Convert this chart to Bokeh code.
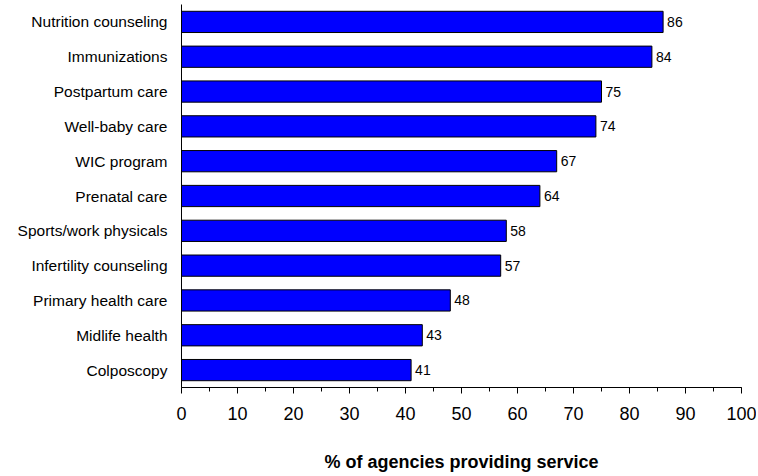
from bokeh.plotting import figure
from bokeh.models import ColumnDataSource, Range1d, FactorRange, SingleIntervalTicker
from bokeh.core.properties import value
from bokeh.embed import file_html
from bokeh.resources import INLINE

categories = ["Nutrition counseling", "Immunizations", "Postpartum care", "Well-baby care",
              "WIC program", "Prenatal care", "Sports/work physicals",
              "Infertility counseling", "Primary health care", "Midlife health", "Colposcopy"]
percent = [86, 84, 75, 74, 67, 64, 58, 57, 48, 43, 41]
x_ticks = [0, 10, 20, 30, 40, 50, 60, 70, 80, 90, 100]

FONT = "Liberation Sans"

src = ColumnDataSource(dict(cat=categories, val=percent, lab=[str(v) for v in percent]))

p = figure(width=756, height=475, output_backend="svg", toolbar_location=None,
           x_range=Range1d(0, 100), y_range=FactorRange(factors=list(reversed(categories))),
           min_border_left=181, min_border_right=15, min_border_top=4, min_border_bottom=88)
p.outline_line_color = None
p.background_fill_color = "white"
p.border_fill_color = "white"
p.xgrid.grid_line_color = None
p.ygrid.grid_line_color = None

p.hbar(y="cat", right="val", left=0, height=0.61, source=src,
       fill_color="#0000FF", line_color="black", line_width=1)
p.text(x="val", y="cat", text="lab", source=src, x_offset=4,
       text_baseline="middle", text_align="left", text_font=value(FONT),
       text_font_size="14px", text_color="black")

xa = p.xaxis[0]
xa.ticker = SingleIntervalTicker(interval=10, num_minor_ticks=2)
xa.axis_line_color = "black"
xa.major_tick_line_color = "black"
xa.minor_tick_line_color = "black"
xa.major_tick_in = 0
xa.major_tick_out = 6
xa.minor_tick_in = 0
xa.minor_tick_out = 4
xa.major_label_text_font = FONT
xa.major_label_text_font_size = "18px"
xa.major_label_text_color = "black"
xa.major_label_standoff = 13
xa.axis_label = "% of agencies providing service"
xa.axis_label_text_font = FONT
xa.axis_label_text_font_size = "18px"
xa.axis_label_text_font_style = "bold"
xa.axis_label_text_color = "black"
xa.axis_label_standoff = 29

ya = p.yaxis[0]
ya.axis_line_color = "black"
ya.major_tick_line_color = None
ya.minor_tick_line_color = None
ya.major_label_text_font = FONT
ya.major_label_text_font_size = "15.5px"
ya.major_label_text_color = "black"
ya.major_label_standoff = 8

open("out.html", "w").write(file_html(p, INLINE))
